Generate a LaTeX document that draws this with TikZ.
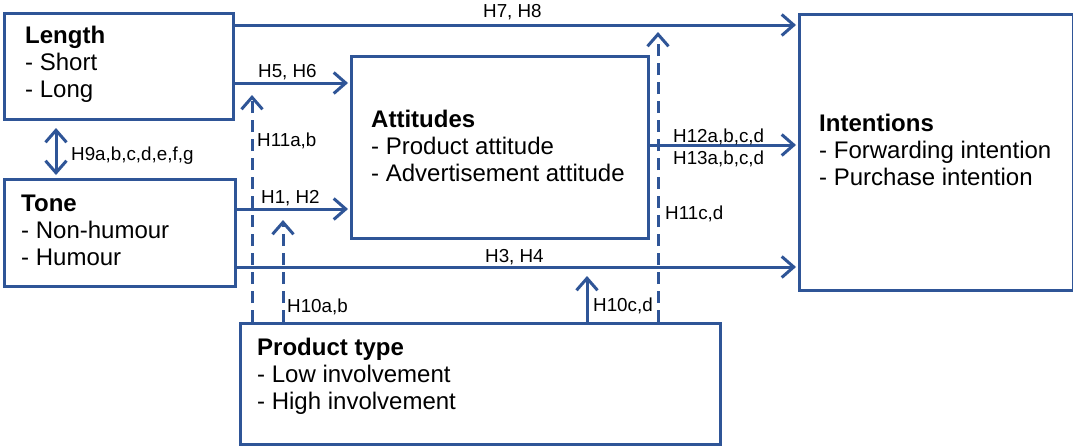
\documentclass[tikz,border=0pt]{standalone}
\usepackage{fontspec}
\setmainfont{Liberation Sans}
\usetikzlibrary{arrows.meta}
\definecolor{mblue}{RGB}{47,85,151}
\begin{document}
\begin{tikzpicture}[x=1pt,y=-1pt,
  box/.style={draw=mblue, line width=3pt, inner sep=0pt, anchor=north west},
  txt/.style={font=\fontsize{24}{27}\selectfont, inner sep=0pt, anchor=base west},
  lbl/.style={font=\fontsize{18.8}{22}\selectfont, inner sep=0pt, anchor=base west},
  conn/.style={draw=mblue, line width=3pt, -{Straight Barb[length=12pt,width=21pt]}, shorten >=2pt},
  dconn/.style={conn, dash pattern=on 12pt off 7pt}]
\useasboundingbox (0,0) rectangle (1073,445);
% boxes
\node[box, minimum width=229pt, minimum height=106pt] (len) at (3,12) {};
\node[box, minimum width=231pt, minimum height=107pt] (tone) at (3,178) {};
\node[box, minimum width=297pt, minimum height=182pt] (att) at (350,55) {};
\node[box, minimum width=274pt, minimum height=276pt] (int) at (798,13) {};
\node[box, minimum width=480pt, minimum height=121pt] (pt) at (239,322) {};
% box texts
\node[txt] (lentxt) at (25,43) {\begin{tabular}[t]{@{}l@{}}\textbf{Length}\\- Short\\- Long\end{tabular}};
\node[txt] (tonetxt) at (21,211) {\begin{tabular}[t]{@{}l@{}}\textbf{Tone}\\- Non-humour\\- Humour\end{tabular}};
\node[txt] (atttxt) at (371,127) {\begin{tabular}[t]{@{}l@{}}\textbf{Attitudes}\\- Product attitude\\- Advertisement attitude\end{tabular}};
\node[txt] (inttxt) at (819,131) {\begin{tabular}[t]{@{}l@{}}\textbf{Intentions}\\- Forwarding intention\\- Purchase intention\end{tabular}};
\node[txt] (pttxt) at (257,355) {\begin{tabular}[t]{@{}l@{}}\textbf{Product type}\\- Low involvement\\- High involvement\end{tabular}};
% free ends of moderating arrows
\coordinate (t11ab) at (252,93);
\coordinate (t10ab) at (283,218);
\coordinate (t10cd) at (587,276);
\coordinate (t11cd) at (658,30);
% direct effects
\draw[conn] (len.east |- 0,25) -- (int.west |- 0,25);
\draw[conn] (len.east |- 0,83) -- (att.west |- 0,83);
\draw[conn] (tone.east |- 0,209) -- (att.west |- 0,209);
\draw[conn] (tone.east |- 0,267) -- (int.west |- 0,267);
\draw[conn] (att.east |- 0,145) -- (int.west |- 0,145);
\draw[draw=mblue, line width=3pt, {Straight Barb[length=12pt,width=21pt]}-{Straight Barb[length=12pt,width=21pt]}, shorten <=7pt, shorten >=3pt] (len.south -| 56,0) -- (tone.north -| 56,0);
% moderating effects
\draw[dconn] (pt.north -| t11ab) -- (t11ab);
\draw[dconn] (pt.north -| t10ab) -- (t10ab);
\draw[conn, shorten >=0pt] (pt.north -| t10cd) -- (t10cd);
\draw[dconn] (pt.north -| t11cd) -- (t11cd);
% labels
\node[lbl] (l78) at (483,17) {H7, H8};
\node[lbl] (l56) at (258,77) {H5, H6};
\node[lbl] (l12) at (261,203) {H1, H2};
\node[lbl] (l34) at (485,262) {H3, H4};
\node[lbl] (l9) at (71,160) {H9a,b,c,d,e,f,g};
\node[lbl] (l11ab) at (257,146) {H11a,b};
\node[lbl] (l10ab) at (287,312) {H10a,b};
\node[lbl] (l10cd) at (593,311) {H10c,d};
\node[lbl] (l11cd) at (665,219) {H11c,d};
\node[lbl] (l12x) at (673,142) {H12a,b,c,d};
\node[lbl] (l13x) at (673,164) {H13a,b,c,d};
\end{tikzpicture}
\end{document}
